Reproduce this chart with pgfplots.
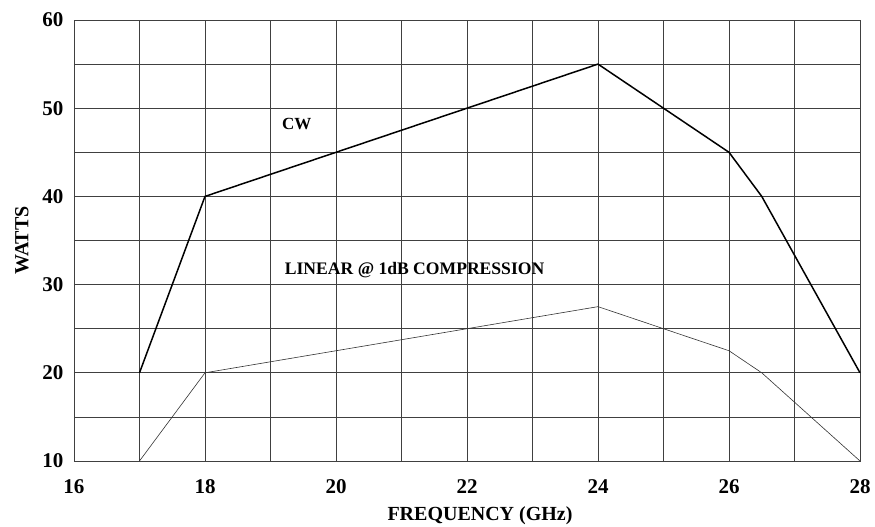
\documentclass[border=0pt]{standalone}
\usepackage{fontspec}
\setmainfont{Liberation Serif}
\usepackage{pgfplots}
\pgfplotsset{compat=1.18}
\begin{document}
\begin{tikzpicture}[x=1pt,y=1pt]
\begin{axis}[
  name=ax,
  scale only axis,
  width=786pt, height=441pt,
  xmin=16, xmax=28, ymin=10, ymax=60,
  xtick={16,18,...,28}, ytick={10,20,...,60},
  minor x tick num=1, minor y tick num=1,
  grid=both,
  major grid style={black!75, line width=0.8pt},
  minor grid style={black!75, line width=0.8pt},
  axis line style={black!75, line width=0.8pt},
  major tick length=0pt, minor tick length=0pt,
  tick label style={font=\fontsize{21}{25}\selectfont\bfseries},
  /pgf/number format/assume math mode=true,
  xticklabel style={yshift=-15pt},
  yticklabel style={xshift=-7pt},
  clip=false,
]
\addplot[black, line width=1.5pt] coordinates {(17,20) (18,40) (24,55) (26,45) (26.5,40) (28,20)};
\addplot[black!80, line width=0.6pt] coordinates {(17,10) (18,20) (24,27.5) (26,22.5) (26.5,20) (28,10)};
\node[font=\fontsize{17}{20}\selectfont\bfseries] at (axis cs:19.4,48.2) {CW};
\node[font=\fontsize{17.6}{20}\selectfont\bfseries] at (axis cs:21.2,31.6) {LINEAR @ 1dB COMPRESSION};
\end{axis}
\node[font=\fontsize{20}{24}\selectfont\bfseries, rotate=90] at ([xshift=-52pt]ax.west) {WATTS};
\node[font=\fontsize{20}{24}\selectfont\bfseries] at ([xshift=13pt,yshift=-55pt]ax.south) {FREQUENCY (GHz)};
\pgfresetboundingbox
\path ([xshift=-74pt,yshift=-66pt]ax.south west) rectangle ([xshift=15pt,yshift=20pt]ax.north east);
\end{tikzpicture}
\end{document}
